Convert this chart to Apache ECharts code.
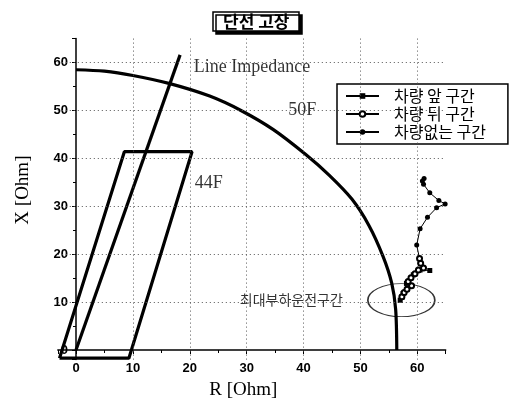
<!DOCTYPE html>
<html><head><meta charset="utf-8">
<script src="https://cdn.jsdelivr.net/npm/echarts@6/dist/echarts.min.js"></script>
<style>html,body{margin:0;padding:0;background:#fff}#c{width:510px;height:398px}</style>
</head><body><div id="c"></div>
<script>
// ---- data ----
const titleText = '단선 고장';
const xAxisName = 'R [Ohm]';
const yAxisName = 'X [Ohm]';
const xGridTicks = [10, 20, 30, 40, 50, 60];
const yGridTicks = [10, 20, 30, 40, 50, 60];
const seriesNames = ['차량 앞 구간', '차량 뒤 구간', '차량없는 구간'];
// 50F relay characteristic
const relay50F_R = [0, 5, 10, 16.5, 23.5, 29, 34.7, 40.4, 44.5, 48.5, 51.5, 54, 55.5, 56.2, 56.4];
const relay50F_X = [58.5, 58.2, 57.3, 55.6, 53.0, 50.0, 46.0, 40.8, 36.5, 31.5, 26.0, 19.5, 14.0, 8.5, 0];
// 44F quadrilateral
const relay44F_R = [-2.9, 8.5, 20.4, 9.3, -2.9];
const relay44F_X = [-1.7, 41.4, 41.4, -1.7, -1.7];
// line impedance
const lineImp_R = [0, 18.3];
const lineImp_X = [0, 61.6];
// trajectories
const front_R = [57.0, 57.3, 57.5, 58.1, 59.3, 60.5, 62.2];
const front_X = [10.4, 11.0, 11.8, 13.9, 15.7, 16.7, 16.6];
const rear_R = [57.3, 57.7, 58.2, 59.0, 58.4, 58.9, 59.6, 60.2, 61.1, 60.6, 60.4];
const rear_X = [11.1, 12.0, 12.7, 13.4, 14.3, 15.1, 15.9, 16.7, 17.1, 18.1, 19.1];
const none_R = [60.4, 59.9, 60.5, 61.8, 63.4, 64.9, 63.8, 62.2, 61.1, 60.9, 61.2];
const none_X = [19.1, 21.9, 25.3, 27.7, 29.7, 30.5, 31.2, 32.8, 34.6, 35.3, 35.8];
// max-load operating zone centre
const zoneCenter = [57.2, 10.4];
// axis ranges
const xRange = [-3.2, 65];
const yRange = [-2, 65];

// ---- build ----
const zip = (a, b) => a.map((v, i) => [v, b[i]]);
const chart = echarts.init(document.getElementById('c'), null, {renderer: 'canvas'});
const serif = 'Liberation Serif';
const kr = 'Noto Sans CJK KR';
const thick = {color: '#000', width: 3.2};
const grid = {left: 57.8, right: 64.3, top: 38.6, bottom: 38.4};
const gw = 510 - grid.left - grid.right, gh = 398 - grid.top - grid.bottom;
// move axes so they cross at the origin
const yAxisOffset = -(0 - xRange[0]) / (xRange[1] - xRange[0]) * gw;
const xAxisOffset = -(0 - yRange[0]) / (yRange[1] - yRange[0]) * gh;

const option = {
  animation: false,
  backgroundColor: '#fff',
  title: {
    text: titleText, left: 213, top: 12, padding: [1, 10, 1, 10],
    borderColor: '#000', borderWidth: 1.5, backgroundColor: '#fff',
    shadowColor: '#000', shadowOffsetX: 3, shadowOffsetY: 3, shadowBlur: 0,
    textStyle: {fontFamily: kr, fontSize: 17, fontWeight: 'bold', color: '#000'}
  },
  legend: {
    data: seriesNames, orient: 'vertical', left: 337, top: 84,
    borderColor: '#000', borderWidth: 1.5, padding: [4, 22, 4, 8],
    itemWidth: 33, itemHeight: 7, itemGap: 2,
    textStyle: {fontFamily: kr, fontSize: 16, color: '#000', padding: [0, 0, 0, 10]}
  },
  grid: Object.assign({containLabel: false, outerBoundsMode: 'none'}, grid),
  xAxis: {
    type: 'value', min: xRange[0], max: xRange[1], offset: xAxisOffset,
    name: xAxisName, nameLocation: 'middle', nameGap: 30, nameMoveOverlap: false,
    nameTextStyle: {fontFamily: serif, fontSize: 19, color: '#000', padding: [0, 17, 0, 0]},
    axisLine: {onZero: false, lineStyle: {color: '#000', width: 1.5}},
    axisTick: {show: true, inside: false, length: 4, lineStyle: {color: '#000'}},
    minorTick: {show: true, splitNumber: 2, length: 3, lineStyle: {color: '#000'}},
    axisLabel: {showMinLabel: false, showMaxLabel: false, margin: 12, fontFamily: 'Liberation Sans', fontWeight: 'bold', fontSize: 13, color: '#000'},
    splitLine: {show: false}
  },
  yAxis: {
    type: 'value', min: yRange[0], max: yRange[1], offset: yAxisOffset,
    name: yAxisName, nameLocation: 'middle', nameGap: 43, nameRotate: 90, nameMoveOverlap: false,
    nameTextStyle: {fontFamily: serif, fontSize: 19, color: '#000', padding: [0, 0, 0, 18]},
    axisLine: {onZero: false, lineStyle: {color: '#000', width: 1.5}},
    axisTick: {show: true, inside: false, length: 4, lineStyle: {color: '#000'}},
    minorTick: {show: true, splitNumber: 2, length: 3, lineStyle: {color: '#000'}},
    axisLabel: {showMinLabel: false, showMaxLabel: false, margin: 8, fontFamily: 'Liberation Sans', fontWeight: 'bold', fontSize: 13, color: '#000'},
    splitLine: {show: false}
  },
  series: [
    {
      type: 'line', name: 'grid', data: [], silent: true, z: 1,
      markLine: {
        silent: true, symbol: ['none', 'none'], label: {show: false},
        lineStyle: {color: '#555', type: [1, 3], width: 1},
        data: xGridTicks.map(v => ({xAxis: v})).concat(yGridTicks.map(v => ({yAxis: v})))
      }
    },
    {type: 'line', name: '50F', data: zip(relay50F_R, relay50F_X), smooth: 0.3, showSymbol: false, lineStyle: thick, silent: true, z: 3},
    {type: 'line', name: '44F', data: zip(relay44F_R, relay44F_X), showSymbol: false, lineStyle: thick, silent: true, z: 3},
    {type: 'line', name: 'LineImp', data: zip(lineImp_R, lineImp_X), showSymbol: false, lineStyle: thick, silent: true, z: 3},
    {type: 'scatter', name: 'zone', data: [zoneCenter], symbol: 'circle', symbolSize: [67, 33],
      itemStyle: {color: 'rgba(0,0,0,0)', borderColor: '#000', borderWidth: 1.2}, silent: true, z: 2},
    {type: 'line', name: seriesNames[0], data: zip(front_R, front_X), symbol: 'rect', symbolSize: 5,
      lineStyle: {color: '#000', width: 1}, itemStyle: {color: '#000'}, z: 5},
    {type: 'line', name: seriesNames[1], data: zip(rear_R, rear_X), symbol: 'emptyCircle', symbolSize: 5,
      lineStyle: {color: '#000', width: 1}, itemStyle: {color: '#000', borderColor: '#000', borderWidth: 1}, z: 6},
    {type: 'line', name: seriesNames[2], data: zip(none_R, none_X), symbol: 'circle', symbolSize: 5,
      lineStyle: {color: '#000', width: 1}, itemStyle: {color: '#000'}, z: 5},
    {
      type: 'scatter', name: 'annot', symbolSize: 0, silent: true, z: 7,
      label: {show: true, position: 'inside', align: 'left', verticalAlign: 'middle',
        formatter: p => p.data[2], fontFamily: serif, fontSize: 18, color: '#000'},
      data: [[20.7, 59.1, 'Line Impedance'], [37.3, 50.1, '50F'], [20.9, 34.9, '44F']]
    },
    {
      type: 'scatter', name: 'annot2', symbolSize: 0, silent: true, z: 7,
      label: {show: true, position: 'inside', align: 'left', verticalAlign: 'middle',
        formatter: p => p.data[2], fontFamily: kr, fontSize: 14, color: '#000'},
      data: [[28.8, 10.6, '최대부하운전구간']]
    }
  ]
};
chart.setOption(option);
</script></body></html>
